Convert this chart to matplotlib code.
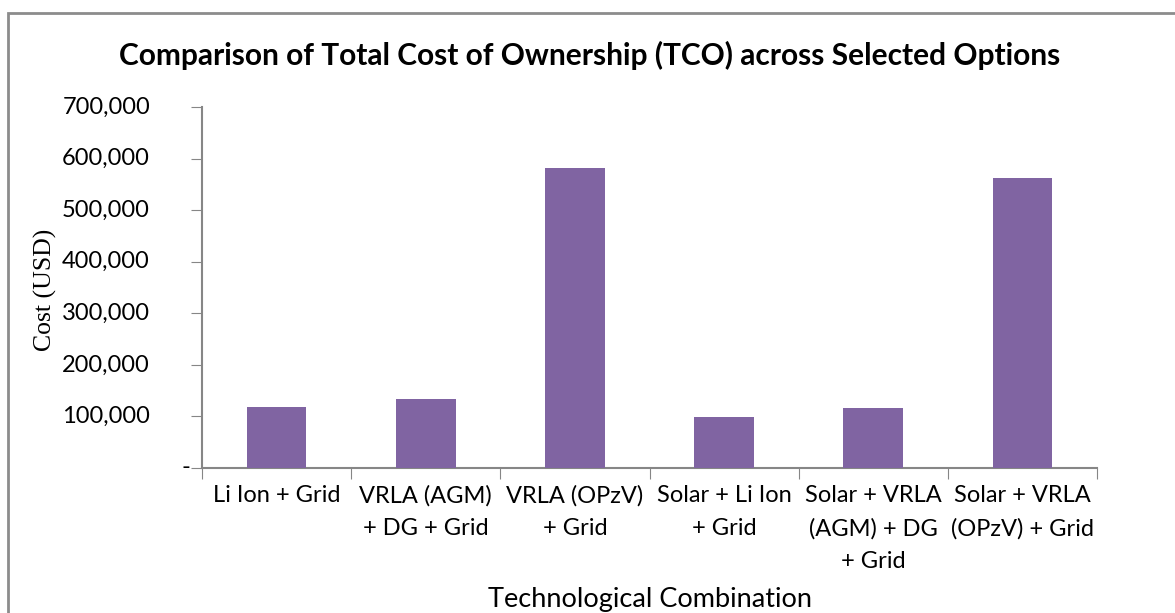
import numpy as np
import matplotlib
matplotlib.use("Agg")
import matplotlib.pyplot as plt
from matplotlib.patches import Rectangle
import matplotlib.transforms as mtransforms

# data
options = ["Li Ion + Grid",
           "VRLA (AGM)\n+ DG + Grid",
           "VRLA (OPzV)\n+ Grid",
           "Solar + Li Ion\n+ Grid",
           "Solar + VRLA\n(AGM) + DG\n+ Grid",
           "Solar + VRLA\n(OPzV) + Grid"]
tco = [118000, 134000, 581000, 99000, 116000, 563000]
yticks = [0, 100000, 200000, 300000, 400000, 500000, 600000, 700000]

plt.rcParams["font.family"] = ["Lato", "DejaVu Sans"]
axis_col = "#868686"

fig = plt.figure(figsize=(11.75, 6.13), dpi=100)
# plot area in pixels: x 202..1097, y 107..468 (top-down)
ax = fig.add_axes([202/1175, 1 - 468/613, (1097-202)/1175, (468-107)/613])

x = np.arange(len(options))
ax.bar(x, tco, width=0.4, color="#8064A2", zorder=3)

ax.set_xlim(-0.5, len(options) - 0.5)
ax.set_ylim(0, 700000)
ax.set_yticks(yticks)
ax.set_yticklabels([])

# y tick labels: accounting style, dash for zero sits closer to the axis
ytrans = mtransforms.blended_transform_factory(fig.transFigure, ax.transData)
for v in yticks:
    if v == 0:
        ax.text(190/1175, v, "-", transform=ytrans, ha="right", va="center", fontsize=17)
    else:
        ax.text(150/1175, v, f"{v:,}", transform=ytrans, ha="right", va="center", fontsize=17)

# category ticks sit on the boundaries between bars
ax.set_xticks(np.arange(-0.5, len(options)))
ax.set_xticklabels([])
ax.set_xticks(x, minor=True)
ax.set_xticklabels(options, minor=True, fontsize=17, linespacing=1.7, va="top")
ax.tick_params(axis="x", which="minor", length=0, pad=12)
ax.tick_params(axis="x", which="major", length=8, color=axis_col, direction="out")
ax.tick_params(axis="y", length=8, color=axis_col)

for s in ["top", "right"]:
    ax.spines[s].set_visible(False)
for s in ["left", "bottom"]:
    ax.spines[s].set_color(axis_col)
    ax.spines[s].set_linewidth(1.5)

fig.text(45/1175, 1 - 290/613, "Cost (USD)", family="Liberation Serif", fontsize=18.5,
         rotation=90, ha="center", va="center")
fig.text(650/1175, 1 - 600/613, "Technological Combination", fontsize=19.5,
         ha="center", va="center")

fig.text(590/1175, 1 - 55/613,
         "Comparison of Total Cost of Ownership (TCO) across Selected Options",
         ha="center", va="center", fontsize=21.5, fontweight="bold")

# outer chart frame (only top and left edges fall inside the picture)
fig.patches.append(Rectangle((8/1175, -0.1), 1.2, 1.1 - 13/613, transform=fig.transFigure,
                             fill=False, edgecolor="#8c8c8c", linewidth=2))

fig.savefig("out.png", dpi=100)
